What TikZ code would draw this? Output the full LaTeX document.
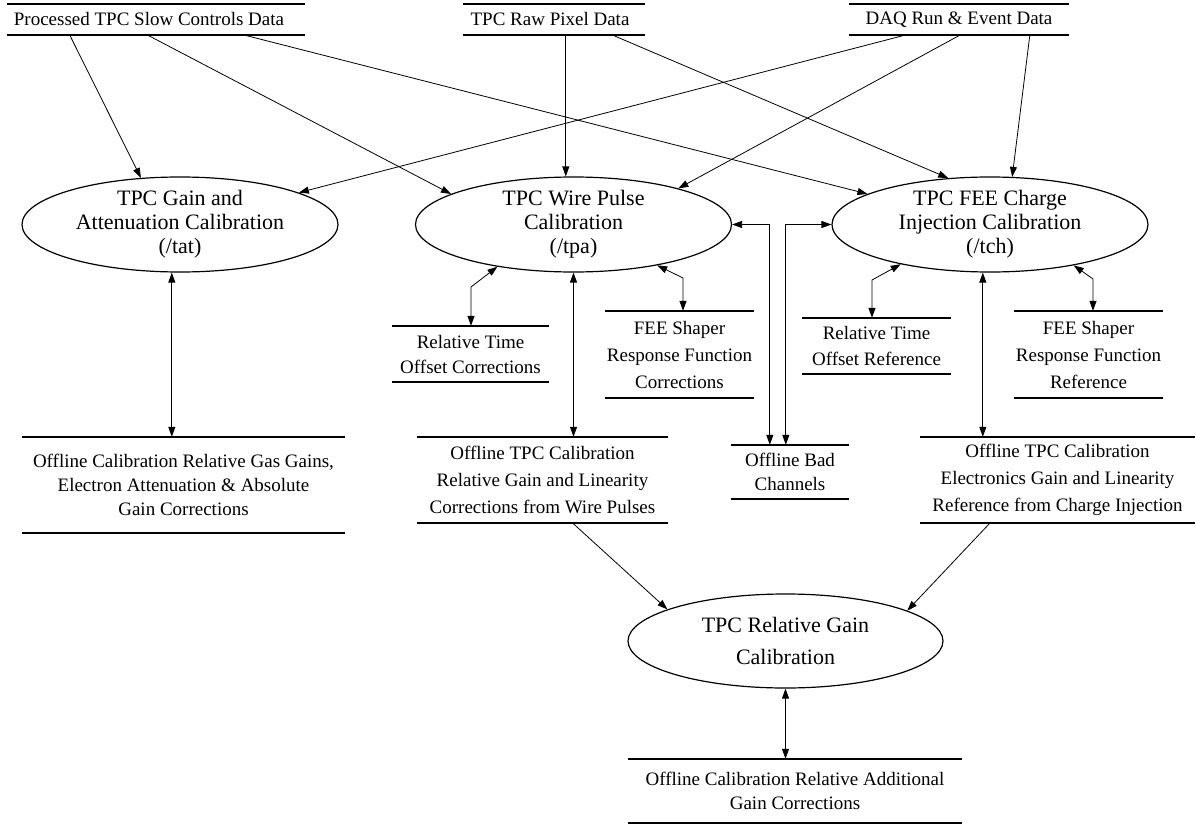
\documentclass[tikz,border=0pt]{standalone}
\usepackage{fontspec}
\setmainfont{Liberation Serif}
\usetikzlibrary{arrows.meta,shapes.geometric}

\begin{document}
\begin{tikzpicture}[x=1pt,y=-1pt,
  procshape/.style={ellipse, draw, line width=1.2pt, inner sep=0pt},
  proctext/.style={align=center, inner sep=0pt, font=\fontsize{22}{24}\selectfont},
  store/.style={rectangle, inner sep=0pt, align=center, font=\fontsize{19}{27}\selectfont},
  storeline/.style={line width=1.6pt},
  flow/.style={-{Triangle[length=10pt,width=7pt]}, line width=0.8pt},
  bi/.style={{Triangle[length=10pt,width=7pt]}-{Triangle[length=10pt,width=7pt]}, line width=0.8pt}]

\useasboundingbox (0,0) rectangle (1196,824);

% ---- external data stores (top row)
\node[store, minimum width=298, minimum height=31] (s1) at (156,19.5) {Processed TPC Slow Controls Data\hspace*{14pt}};
\node[store, minimum width=182, minimum height=31] (s2) at (554,19.5) {TPC Raw Pixel Data\hspace*{8pt}};
\node[store, minimum width=220, minimum height=31] (s3) at (959,19.5) {DAQ Run \& Event Data};

% ---- calibration processes
\node[procshape, minimum width=316, minimum height=95] (tat) at (180,224.5) {};
\node[proctext] (tatL) at (tat) {TPC Gain and\\Attenuation Calibration\\(/tat)};
\node[procshape, minimum width=316, minimum height=95] (tpa) at (573.5,224.5) {};
\node[proctext] (tpaL) at (tpa) {TPC Wire Pulse\\Calibration\\(/tpa)};
\node[procshape, minimum width=316, minimum height=95] (tch) at (990,224.5) {};
\node[proctext] (tchL) at (tch) {TPC FEE Charge\\Injection Calibration\\(/tch)};
\node[procshape, minimum width=315, minimum height=94] (rg) at (785.5,641) {};
\node[proctext, font=\fontsize{22}{32}\selectfont] (rgL) at (rg) {TPC Relative Gain\\Calibration};

% ---- intermediate data stores
\node[store, minimum width=157, minimum height=56, font=\fontsize{19}{25}\selectfont] (rtc) at (470.5,354) {Relative Time\\Offset Corrections};
\node[store, minimum width=149, minimum height=87] (fc) at (679.5,354.5) {FEE Shaper\\Response Function\\Corrections};
\node[store, minimum width=149, minimum height=56, font=\fontsize{19}{26}\selectfont] (rtr) at (876.5,346) {Relative Time\\Offset Reference};
\node[store, minimum width=149, minimum height=87] (fr) at (1088.5,354.5) {FEE Shaper\\Response Function\\Reference};
\node[store, minimum width=118, minimum height=54, font=\fontsize{19}{24}\selectfont] (bc) at (790,472) {Offline Bad\\Channels};

% ---- calibration results
\node[store, minimum width=323, minimum height=96, font=\fontsize{19}{24}\selectfont] (gas) at (183.5,485)
  {Offline Calibration Relative Gas Gains,\\Electron Attenuation \& Absolute\\Gain Corrections};
\node[store, minimum width=251, minimum height=86] (wire) at (542.5,480)
  {Offline TPC Calibration\\Relative Gain and Linearity\\Corrections from Wire Pulses};
\node[store, minimum width=275, minimum height=86] (cs) at (1057.5,480)
  {Offline TPC Calibration\\Electronics Gain and Linearity\\Reference from Charge Injection};
\node[store, minimum width=334, minimum height=64, font=\fontsize{19}{24}\selectfont] (rs) at (795,791)
  {Offline Calibration Relative Additional\\Gain Corrections};

% store outlines: a rule above and below each store
\foreach \s in {s1,s2,s3,rtc,fc,rtr,fr,bc,gas,wire,cs,rs}
  \draw[storeline] (\s.north west) -- (\s.north east) (\s.south west) -- (\s.south east);

% ---- inputs from the top row
\draw[flow] ([xshift=63pt]s1.south west) -- (tat.130);
\draw[flow] ([xshift=141pt]s1.south west) -- (tpa.166);
\draw[flow] ([xshift=238pt]s1.south west) -- (tch.166);
\coordinate (p1) at ([xshift=103pt]s2.south west);
\draw[flow] (p1) -- (p1 |- tpa.north);
\draw[flow] ([xshift=150pt]s2.south west) -- (tch.132);
\draw[flow] ([xshift=56pt]s3.south west) -- (tat.15.5);
\draw[flow] ([xshift=111pt]s3.south west) -- (tpa.19.5);
\draw[flow] ([xshift=181pt]s3.south west) -- (tch.65);

% ---- wire pulse calibration links
\coordinate (b1) at (471,287);
\draw[bi] (tpa.209) -- (b1) -- (b1 |- rtc.north);
\coordinate (b2) at (683,278);
\draw[bi] (tpa.334.5) -- (b2) -- (b2 |- fc.north);
\draw[bi] (tpa.south) -- (tpa.south |- wire.north);
\draw[bi] ([xshift=39pt]bc.north west) |- (tpa.east);
\draw[bi] ([xshift=55pt]bc.north west) |- (tch.west);

% ---- charge injection calibration links
\coordinate (b3) at (872,280);
\draw[bi] (tch.204) -- (b3) -- (b3 |- rtr.north);
\coordinate (b4) at (1093,279);
\draw[bi] (tch.334) -- (b4) -- (b4 |- fr.north);
\coordinate (c1) at ([xshift=63pt]cs.north west);
\draw[bi] (c1 |- tch.south) -- (c1);

% ---- gain and attenuation calibration link
\coordinate (g1) at ([xshift=150pt]gas.north west);
\draw[bi] (g1 |- tat.south) -- (g1);

% ---- relative gain calibration
\draw[flow] ([xshift=156pt]wire.south west) -- (rg.165.5);
\draw[flow] ([xshift=70pt]cs.south west) -- (rg.14.5);
\draw[bi] (rg.south) -- (rg.south |- rs.north);

\end{tikzpicture}
\end{document}
